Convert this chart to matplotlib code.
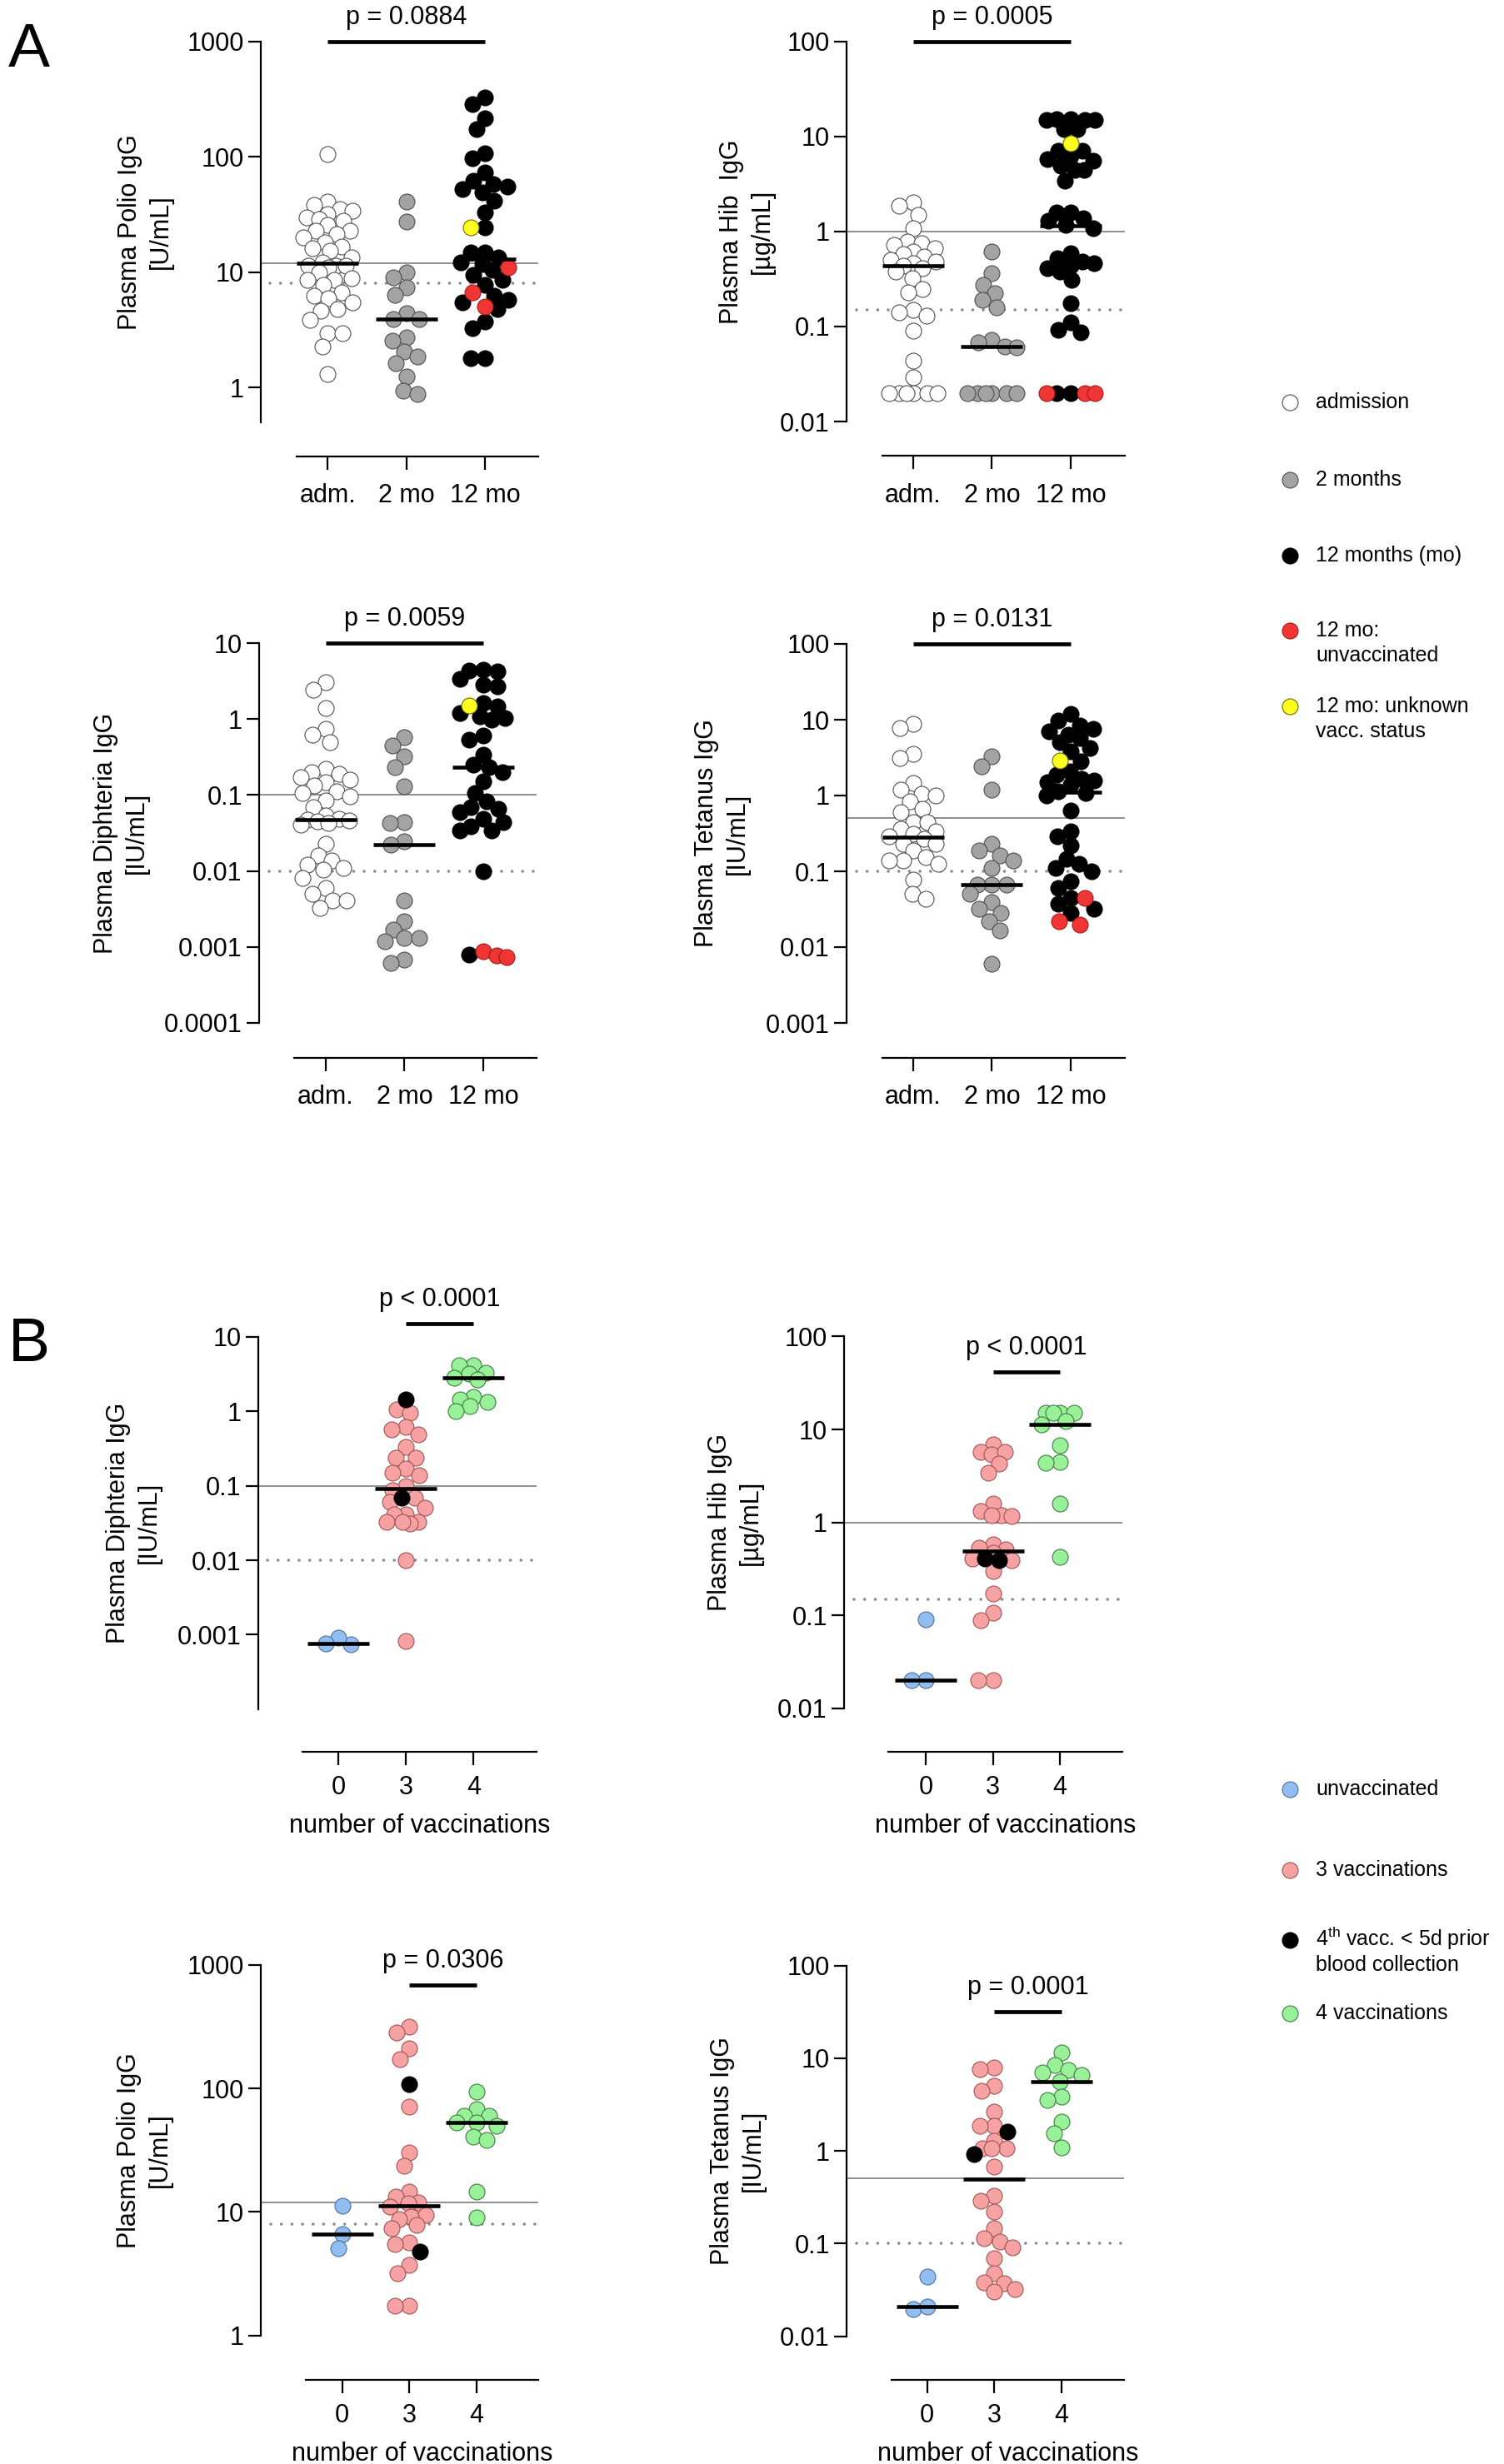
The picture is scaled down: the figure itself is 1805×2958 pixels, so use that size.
import numpy as np
import matplotlib
matplotlib.use("Agg")
import matplotlib.pyplot as plt
from matplotlib.ticker import FixedLocator, NullLocator, FuncFormatter

# ------------------------------------------------------------------ DATA
# Panel A : groups adm. / 2 mo / 12 mo
xlabels_A = ["adm.", "2 mo", "12 mo"]
xlabels_B = ["0", "3", "4"]

polio_adm = [105, 40.9, 37.9, 35.4, 34.1, 32, 29.9, 29, 28, 25.5, 23, 23, 21.5, 20, 18.2,
             16.5, 16, 15.4, 13.5, 12.2, 11.4, 11.4, 11.4, 11, 10, 8.8, 8.5, 8.5, 7.7, 6.7,
             6.2, 5.9, 5.5, 4.8, 4.6, 3.84, 2.94, 2.94, 2.26, 1.31]
polio_2mo = [40.9, 27.4, 10, 9.0, 7.4, 6.3, 4.4, 3.9, 3.9, 2.7, 2.55, 2.04, 1.85, 1.62, 1.24, 0.94, 0.88]
polio_12mo = [324, 284, 217, 173, 108, 96.5, 73, 62, 58, 55, 52.5, 49, 41.6, 33, 24.5, 14.9, 14.9,
              13.5, 12.2, 11.8, 10.4, 9.4, 8.5, 7.7, 6.2, 5.7, 5.5, 4.8, 3.7, 3.25, 1.79, 1.79]
polio_12mo_unvacc = [11, 6.7, 5.0]
polio_12mo_unknown = [24.5]
polio_medians_A = [12, 3.9, 13]

hib_adm = [2.04, 1.88, 1.48, 1.07, 0.78, 0.75, 0.72, 0.66, 0.61, 0.58, 0.54, 0.5, 0.48, 0.46, 0.44,
           0.41, 0.38, 0.32, 0.25, 0.23, 0.15, 0.14, 0.13, 0.09, 0.044, 0.029,
           0.02, 0.02, 0.02, 0.02, 0.02, 0.02]
hib_2mo = [0.61, 0.36, 0.275, 0.225, 0.19, 0.16, 0.073, 0.068, 0.062, 0.06,
           0.02, 0.02, 0.02, 0.02, 0.02, 0.02]
hib_12mo = [15.2, 15.2, 15.0, 15.0, 14.8, 11.9, 11.9, 7.1, 7.0, 6.3, 5.8, 5.6, 4.9, 4.4, 4.4, 3.4,
            1.6, 1.6, 1.37, 1.3, 1.16, 1.07, 0.59, 0.52, 0.48, 0.46, 0.44, 0.41, 0.38, 0.31,
            0.177, 0.11, 0.093, 0.086, 0.02, 0.02]
hib_12mo_unvacc = [0.02, 0.02, 0.02]
hib_12mo_unknown = [8.5]
hib_medians_A = [0.44, 0.062, 1.15]

diph_adm = [3.02, 2.45, 1.4, 0.74, 0.62, 0.49, 0.22, 0.2, 0.19, 0.17, 0.16, 0.146, 0.134, 0.112,
            0.105, 0.096, 0.085, 0.07, 0.054, 0.048, 0.047, 0.046, 0.045, 0.043, 0.041, 0.023,
            0.016, 0.0137, 0.012, 0.011, 0.0105, 0.008, 0.006, 0.005, 0.0041, 0.0041, 0.0033]
diph_2mo = [0.57, 0.45, 0.32, 0.23, 0.13, 0.044, 0.043, 0.0245, 0.022, 0.0041, 0.0022, 0.0017,
            0.0013, 0.0012, 0.0013, 0.00068, 0.00062]
diph_12mo = [4.5, 4.3, 4.2, 3.4, 2.8, 2.7, 1.64, 1.47, 1.2, 1.08, 1.02, 0.97, 0.6, 0.54, 0.34,
             0.25, 0.23, 0.2, 0.15, 0.106, 0.082, 0.07, 0.066, 0.06, 0.048, 0.044, 0.039, 0.034,
             0.034, 0.01, 0.00079]
diph_12mo_unvacc = [0.00088, 0.00077, 0.00074]
diph_12mo_unknown = [1.52]
diph_medians_A = [0.047, 0.022, 0.23]

tet_adm = [8.9, 7.7, 3.5, 3.1, 1.48, 1.2, 1.05, 1.0, 0.83, 0.67, 0.6, 0.45, 0.44, 0.36, 0.34, 0.31,
           0.29, 0.265, 0.23, 0.23, 0.19, 0.153, 0.14, 0.138, 0.124, 0.077, 0.05, 0.043]
tet_2mo = [3.3, 2.45, 1.2, 0.23, 0.19, 0.16, 0.138, 0.11, 0.066, 0.066, 0.066, 0.05, 0.039, 0.032,
           0.028, 0.022, 0.0167, 0.006]
tet_12mo = [11.8, 9.8, 8.4, 7.6, 7.0, 6.4, 5.8, 5.0, 4.2, 3.8, 2.8, 2.1, 1.9, 1.64, 1.56, 1.5, 1.4,
            1.14, 1.08, 1.0, 0.64, 0.34, 0.29, 0.22, 0.146, 0.124, 0.11, 0.1, 0.073, 0.06, 0.045,
            0.037, 0.032, 0.028]
tet_12mo_unvacc = [0.045, 0.022, 0.02]
tet_12mo_unknown = [2.9]
tet_medians_A = [0.28, 0.066, 1.1]

# Panel B : number of vaccinations 0 / 3 / 4
diphB_0 = [0.00075, 0.00092, 0.00076]
diphB_3 = [1.05, 0.95, 0.62, 0.57, 0.49, 0.33, 0.24, 0.24, 0.17, 0.15, 0.14, 0.098, 0.088, 0.069,
           0.061, 0.051, 0.041, 0.041, 0.033, 0.033, 0.031, 0.033, 0.01, 0.00083]
diphB_3_recent = [1.45, 0.069]
diphB_4 = [4.2, 4.2, 3.3, 3.2, 2.8, 2.7, 1.57, 1.45, 1.35, 1.18, 1.02]
diph_medians_B = [0.00076, 0.092, 2.8]

hibB_0 = [0.09, 0.02, 0.02]
hibB_3 = [6.9, 5.7, 5.4, 5.7, 4.3, 3.45, 1.58, 1.33, 1.2, 1.16, 1.2, 0.58, 0.51, 0.53, 0.47, 0.41,
          0.39, 0.3, 0.17, 0.107, 0.089, 0.02, 0.02]
hibB_3_recent = [0.41, 0.39]
hibB_4 = [15, 15, 15, 15, 12.3, 11.3, 6.8, 4.5, 4.4, 1.6, 0.43]
hib_medians_B = [0.02, 0.49, 11.3]

polioB_0 = [11.2, 6.6, 5.1]
polioB_3 = [317, 285, 210, 173, 71, 30.4, 23.7, 14.7, 13.3, 11.9, 11.8, 11.0, 9.5, 9.1, 8.8, 7.8,
            7.4, 5.7, 5.5, 3.7, 3.2, 1.75, 1.75]
polioB_3_recent = [108, 4.8]
polioB_4 = [94, 67.5, 60, 60, 53, 53, 50, 41, 38, 14.5, 9]
polio_medians_B = [6.6, 11.2, 53]

tetB_0 = [0.044, 0.0194, 0.021]
tetB_3 = [8.0, 7.6, 5.05, 4.4, 2.66, 1.85, 1.85, 1.28, 1.07, 1.07, 1.07, 0.67, 0.33, 0.29, 0.22,
          0.146, 0.114, 0.105, 0.091, 0.069, 0.048, 0.037, 0.038, 0.032, 0.03]
tetB_3_recent = [1.6, 0.92]
tetB_4 = [11.5, 8.4, 7.4, 7.0, 6.6, 5.6, 3.8, 3.55, 2.07, 1.54, 1.09]
tet_medians_B = [0.021, 0.49, 5.6]

# thresholds (solid = protective, dotted = detection/minimum)
polio_thr = (12, 8)
hib_thr = (1, 0.15)
diph_thr = (0.1, 0.01)
tet_thr = (0.5, 0.1)

p_texts = ["p = 0.0884", "p = 0.0005", "p = 0.0059", "p = 0.0131",
           "p < 0.0001", "p < 0.0001", "p = 0.0306", "p = 0.0001"]

legend_A = ["admission", "2 months", "12 months (mo)", "12 mo:\nunvaccinated",
            "12 mo: unknown\nvacc. status"]
legend_B = ["unvaccinated", "3 vaccinations", "4$^{\\rm th}$ vacc. < 5d prior\nblood collection",
            "4 vaccinations"]

# ------------------------------------------------------------------ STYLE
plt.rcParams['font.family'] = ['Liberation Sans', 'DejaVu Sans']
plt.rcParams['mathtext.fontset'] = 'custom'
plt.rcParams['mathtext.rm'] = 'Liberation Sans'
plt.rcParams['mathtext.it'] = 'Liberation Sans:italic'
plt.rcParams['mathtext.bf'] = 'Liberation Sans:bold'

C = {
    'white': ('#ffffff', '#505050'),
    'gray': ('#a3a3a3', '#4d4d4d'),
    'black': ('#000000', '#000000'),
    'red': ('#f03535', '#a31818'),
    'yellow': ('#ffff1f', '#6b6b00'),
    'blue': ('#92bdf0', '#4c6f98'),
    'pink': ('#f7a2a2', '#a05252'),
    'green': ('#98f098', '#3f7d3f'),
}

W, H = 1806, 2958
DPI = 100
PT = 72.0 / DPI          # points per pixel
FS = 22
MARK_D = 19.0            # marker diameter in px

fig = plt.figure(figsize=(W / DPI, H / DPI), dpi=DPI)
fig.patch.set_facecolor('white')

layouts = [
    dict(spine=312.7, t0=393.5, t2=582.4, right=646, xstart=355.8, ytop=49.7, ybot=506.7,
         ylim=(0.5, 1000), yticks=[1, 10, 100, 1000], xaxis=547.6, pbar=1000, pg=(0, 2),
         xpad=12, ylx=174, ylabel="Plasma Polio IgG\n[U/mL]"),
    dict(spine=1016, t0=1096, t2=1285, right=1350, xstart=1059, ytop=49.7, ybot=506,
         ylim=(0.01, 100), yticks=[0.01, 0.1, 1, 10, 100], xaxis=547, pbar=100, pg=(0, 2),
         xpad=12, ylx=896, ylabel="Plasma Hib  IgG\n[µg/mL]"),
    dict(spine=311, t0=391, t2=580, right=644, xstart=353, ytop=772, ybot=1228,
         ylim=(1e-4, 10), yticks=[1e-4, 1e-3, 0.01, 0.1, 1, 10], xaxis=1269.6, pbar=10, pg=(0, 2),
         xpad=12, ylx=145, ylabel="Plasma Diphteria IgG\n[IU/mL]"),
    dict(spine=1016, t0=1096, t2=1285, right=1350, xstart=1059, ytop=773, ybot=1228,
         ylim=(1e-3, 100), yticks=[1e-3, 0.01, 0.1, 1, 10, 100], xaxis=1269.6, pbar=100, pg=(0, 2),
         xpad=12, ylx=866, ylabel="Plasma Tetanus IgG\n[IU/mL]"),
    dict(spine=309.6, t0=406, t2=568.5, right=644, xstart=362.6, ytop=1605, ybot=2051.7,
         ylim=(1e-4, 10), yticks=[1e-3, 0.01, 0.1, 1, 10], xaxis=2103, pbar=15, pg=(1, 2),
         xpad=8.5, ylx=160, ylabel="Plasma Diphteria IgG\n[IU/mL]"),
    dict(spine=1013, t0=1111, t2=1272, right=1347, xstart=1066, ytop=1604.4, ybot=2050.8,
         ylim=(0.01, 100), yticks=[0.01, 0.1, 1, 10, 100], xaxis=2102.8, pbar=41.7, pg=(1, 2),
         xpad=8.5, ylx=882, ylabel="Plasma Hib IgG\n[µg/mL]"),
    dict(spine=313, t0=410.6, t2=572, right=646, xstart=366.6, ytop=2359, ybot=2803.6,
         ylim=(1, 1000), yticks=[1, 10, 100, 1000], xaxis=2857.4, pbar=686, pg=(1, 2),
         xpad=8.5, ylx=173, ylabel="Plasma Polio IgG\n[U/mL]"),
    dict(spine=1016, t0=1112.8, t2=1274, right=1349.5, xstart=1069.6, ytop=2359.5, ybot=2804.5,
         ylim=(0.01, 100), yticks=[0.01, 0.1, 1, 10, 100], xaxis=2857.4, pbar=32, pg=(1, 2),
         xpad=8.5, ylx=885, ylabel="Plasma Tetanus IgG\n[IU/mL]"),
]

groups_A = [
    [(polio_adm, 'white'), (polio_2mo, 'gray'), (polio_12mo, 'black', polio_12mo_unvacc, 'red', polio_12mo_unknown, 'yellow')],
    [(hib_adm, 'white'), (hib_2mo, 'gray'), (hib_12mo, 'black', hib_12mo_unvacc, 'red', hib_12mo_unknown, 'yellow')],
    [(diph_adm, 'white'), (diph_2mo, 'gray'), (diph_12mo, 'black', diph_12mo_unvacc, 'red', diph_12mo_unknown, 'yellow')],
    [(tet_adm, 'white'), (tet_2mo, 'gray'), (tet_12mo, 'black', tet_12mo_unvacc, 'red', tet_12mo_unknown, 'yellow')],
]
groups_B = [
    [(diphB_0, 'blue'), (diphB_3, 'pink', diphB_3_recent, 'black'), (diphB_4, 'green')],
    [(hibB_0, 'blue'), (hibB_3, 'pink', hibB_3_recent, 'black'), (hibB_4, 'green')],
    [(polioB_0, 'blue'), (polioB_3, 'pink', polioB_3_recent, 'black'), (polioB_4, 'green')],
    [(tetB_0, 'blue'), (tetB_3, 'pink', tetB_3_recent, 'black'), (tetB_4, 'green')],
]
all_groups = groups_A + groups_B
medians = [polio_medians_A, hib_medians_A, diph_medians_A, tet_medians_A,
           diph_medians_B, hib_medians_B, polio_medians_B, tet_medians_B]
thresholds = [polio_thr, hib_thr, diph_thr, tet_thr, diph_thr, hib_thr, polio_thr, tet_thr]


def swarm(ypx, diam, max_half):
    """Beeswarm x-offsets (pixels) for points with display y positions ypx."""
    n = len(ypx)
    xs = np.zeros(n)
    order = np.argsort(-np.asarray(ypx), kind='stable')
    px, py = [], []
    for idx in order:
        y = ypx[idx]
        best = None
        for f in (1.0, 0.85, 0.7, 0.55, 0.45, 0.35, 0.25):
            D = diam * f
            cands = [0.0]
            for xj, yj in zip(px, py):
                dy = abs(yj - y)
                if dy < D:
                    dx = np.sqrt(D * D - dy * dy)
                    cands += [xj + dx, xj - dx]
            cands = sorted(set(cands), key=lambda c: (round(abs(c), 6), c))
            for c in cands:
                if abs(c) > max_half:
                    continue
                ok = True
                for xj, yj in zip(px, py):
                    if (c - xj) ** 2 + (y - yj) ** 2 < D * D - 1e-6:
                        ok = False
                        break
                if ok:
                    best = c
                    break
            if best is not None:
                break
        if best is None:
            best = 0.0
        xs[idx] = best
        px.append(best)
        py.append(y)
    return xs


def fy(y):
    return 1 - y / H


for k, (L, grp) in enumerate(zip(layouts, all_groups)):
    sp = (L['t2'] - L['t0']) / 2.0
    ax = fig.add_axes([L['spine'] / W, fy(L['ybot']), (L['right'] - L['spine']) / W,
                       (L['ybot'] - L['ytop']) / H])
    ax.set_facecolor('none')
    xlo = -(L['t0'] - L['spine']) / sp
    xhi = 2 + (L['right'] - L['t2']) / sp
    ax.set_xlim(xlo, xhi)
    ax.set_yscale('log')
    ax.set_ylim(*L['ylim'])

    for s in ('top', 'right'):
        ax.spines[s].set_visible(False)
    for s in ('left', 'bottom'):
        ax.spines[s].set_linewidth(1.6)
    ax.spines['bottom'].set_position(('outward', (L['xaxis'] - L['ybot']) * PT))
    ax.spines['bottom'].set_bounds((L['xstart'] - L['t0']) / sp, xhi)

    ax.yaxis.set_major_locator(FixedLocator(L['yticks']))
    ax.yaxis.set_minor_locator(NullLocator())
    ax.yaxis.set_major_formatter(FuncFormatter(lambda v, p: f"{v:g}"))
    ax.set_xticks([0, 1, 2])
    ax.set_xticklabels(xlabels_A if k < 4 else xlabels_B)
    ax.tick_params(axis='y', length=11, width=1.6, pad=3.5, labelsize=FS)
    ax.tick_params(axis='x', length=11.5, width=1.6, pad=L['xpad'], labelsize=FS)

    # reference lines
    solid, dotted = thresholds[k]
    ax.axhline(solid, color='#8e8e8e', lw=1.4, zorder=1)
    ax.axhline(dotted, xmin=0.035, color='#8a8a8a', lw=2.6, ls=(0, (0.01, 3.5)),
               dash_capstyle='round', zorder=1)

    # points
    max_half = 0.42 * sp - MARK_D / 2
    for gi, g in enumerate(grp):
        vals, cols = [], []
        for j in range(0, len(g), 2):
            vals += list(g[j])
            cols += [g[j + 1]] * len(g[j])
        vals = np.array(vals, float)
        ypx = ax.transData.transform(np.column_stack([np.full(len(vals), gi), vals]))[:, 1]
        xo = swarm(ypx, MARK_D * 0.9, max_half)
        xd = gi + xo / sp
        cols = np.array(cols)
        for cname in dict.fromkeys(cols):
            m = cols == cname
            fc, ec = C[cname]
            ax.scatter(xd[m], vals[m], s=(MARK_D * PT) ** 2, facecolor=fc, edgecolor=ec,
                       linewidth=0.8, zorder=3 if cname not in ('red', 'yellow') else 4,
                       clip_on=False)
        # median bar
        hw = 37.0 / sp
        ax.plot([gi - hw, gi + hw], [medians[k][gi]] * 2, color='black', lw=3.3,
                solid_capstyle='butt', zorder=5, clip_on=False)

    # p-value bar and text
    a, b = L['pg']
    ax.plot([a, b], [L['pbar']] * 2, color='black', lw=3.4, solid_capstyle='butt',
            clip_on=False, zorder=5)
    ax.annotate(p_texts[k], xy=((a + b) / 2, L['pbar']), xytext=(0, 29 * PT),
                textcoords='offset points', ha='center', va='center', fontsize=FS,
                annotation_clip=False)

    # y label
    fig.text(L['ylx'] / W, fy((L['ytop'] + L['ybot']) / 2), L['ylabel'], rotation=90,
             ha='center', va='center', multialignment='center', fontsize=FS, linespacing=1.3)

    # x label for panel B
    if k >= 4:
        fig.text(((L['xstart'] + L['right']) / 2) / W, fy(L['xaxis'] + 89), "number of vaccinations",
                 ha='center', va='center', fontsize=FS)

# panel letters
fig.text(35 / W, fy(79.5), "A", ha='center', va='baseline', fontsize=54)
fig.text(35 / W, fy(1634.4), "B", ha='center', va='baseline', fontsize=54)


def draw_legend(labels, colors, ys):
    lax = fig.add_axes([0, 0, 1, 1])
    lax.set_xlim(0, W)
    lax.set_ylim(H, 0)
    lax.axis('off')
    for lab, cname, y in zip(labels, colors, ys):
        fc, ec = C[cname]
        lax.scatter([1548], [y], s=(MARK_D * PT) ** 2, facecolor=fc, edgecolor=ec, linewidth=0.8)
        for li, line in enumerate(lab.split("\n")):
            lax.text(1579, y + 7 + li * 30, line, ha='left', va='baseline', fontsize=18)


draw_legend(legend_A, ['white', 'gray', 'black', 'red', 'yellow'], [483, 576, 667, 757, 848])
draw_legend(legend_B, ['blue', 'pink', 'black', 'green'], [2148, 2245, 2329, 2417])

fig.savefig("out.png", dpi=DPI, facecolor='white')
